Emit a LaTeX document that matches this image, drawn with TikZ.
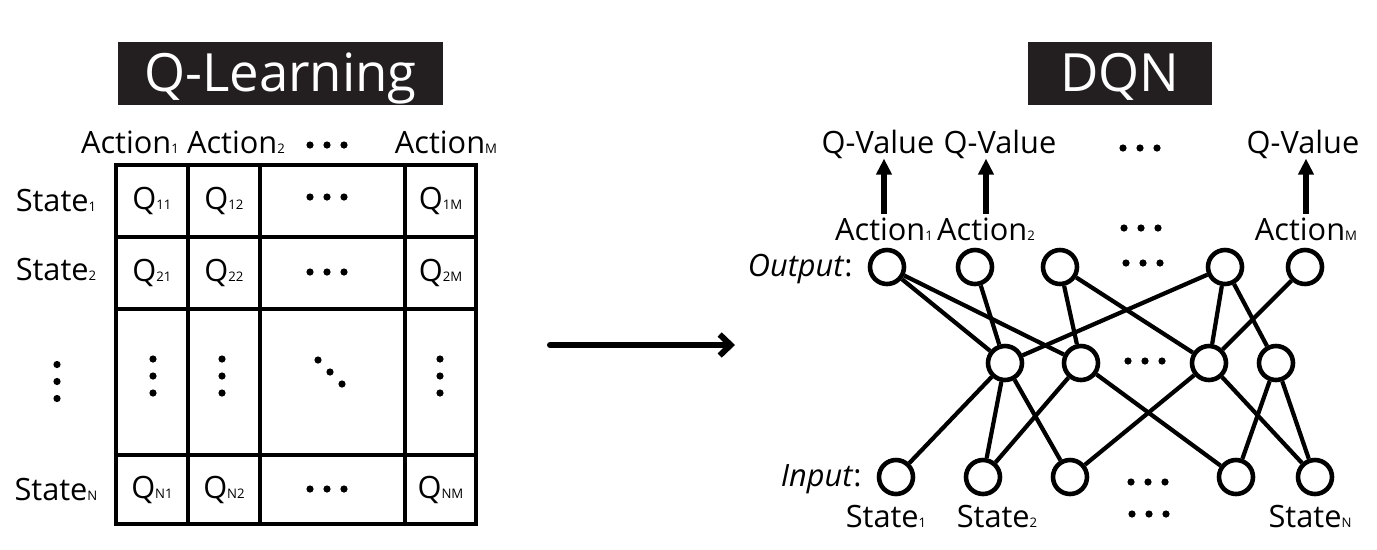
\documentclass[tikz,border=0pt]{standalone}
\usepackage{fontspec}
\setmainfont{Open Sans}
\usetikzlibrary{arrows.meta}
\definecolor{titlebg}{RGB}{35,31,32}
\newcommand{\idx}[1]{{\fontsize{7.5}{8}\selectfont #1}}

\begin{document}
\begin{tikzpicture}[x=0.02cm, y=-0.02cm,
    txt/.style={font=\fontsize{17.5}{20}\selectfont, inner sep=0pt, anchor=base},
    cell/.style={draw, line width=2.3pt, inner sep=0pt, font=\fontsize{17.5}{20}\selectfont},
    titlebox/.style={fill=titlebg, text=white, font=\fontsize{30}{36}\selectfont,
      minimum height=1.26cm, text height=0.7cm, text depth=0cm, inner sep=0pt},
    neuron/.style={circle, draw, line width=2.6pt, minimum size=0.68cm, inner sep=0pt},
    link/.style={line width=2.4pt},
    qarrow/.style={line width=3.1pt, -{Triangle[length=0.32cm,width=0.3cm]}},
    bigarrow/.style={line width=3.4pt, line cap=round, -{Straight Barb[length=0.22cm,width=0.42cm]}}]
  \useasboundingbox (0,0) rectangle (1377,549);

  % titles
  \node[titlebox, minimum width=6.5cm] (tql) at (280.5,73.5) {Q-Learning};
  \node[titlebox, minimum width=3.68cm] (tdqn) at (1120,73.5) {DQN};

  % q table header
  \node[txt] (ta1) at (130,153) {Action\idx{1}};
  \node[txt] (ta2) at (236,153) {Action\idx{2}};
  \node[txt] (tam) at (446,153) {Action\idx{M}};
  \node[txt] (ts1) at (56,211) {State\idx{1}};
  \node[txt] (ts2) at (56,280) {State\idx{2}};
  \node[txt] (tsn) at (56,500) {State\idx{N}};

  % q table cells
  \foreach \r/\y/\h in {1/201/1.44cm, 2/273/1.44cm, N/489.5/1.38cm}{
    \node[cell, minimum width=1.44cm, minimum height=\h] (q\r1) at (152,\y) {Q\idx{\r1}};
    \node[cell, minimum width=1.44cm, minimum height=\h] (q\r2) at (224,\y) {Q\idx{\r2}};
    \node[cell, minimum width=2.9cm, minimum height=\h] (q\r x) at (332.5,\y) {};
    \node[cell, minimum width=1.42cm, minimum height=\h] (q\r M) at (440.5,\y) {Q\idx{\r M}};
  }
  \node[cell, minimum width=1.44cm, minimum height=2.92cm] (qx1) at (152,382) {};
  \node[cell, minimum width=1.44cm, minimum height=2.92cm] (qx2) at (224,382) {};
  \node[cell, minimum width=2.9cm, minimum height=2.92cm] (qxx) at (332.5,382) {};
  \node[cell, minimum width=1.42cm, minimum height=2.92cm] (qxM) at (440.5,382) {};

  % dots
  \foreach \x/\y in {327/145, 327/197, 327/272, 327/489, 1140/148, 1141/228,
                     1143/263, 1145/361, 1148/482, 1149/514}
    \foreach \d in {-17,0,17}
      \fill (\x+\d,\y) circle (0.072cm);
  \foreach \x/\y in {57/381.5, 153/376, 222/376, 440/376}
    \foreach \d in {-17,0,17}
      \fill (\x,\y+\d) circle (0.072cm);
  \foreach \d in {-12,0,12}
    \fill (330+\d,372+\d) circle (0.072cm);

  % q-learning -> dqn
  \coordinate (arrS) at (550,345);
  \coordinate (arrE) at (735,345);
  \draw[bigarrow] (arrS) -- (arrE);

  % dqn outputs
  \node[txt] (qv1) at (878,153) {Q-Value};
  \node[txt] (qv2) at (1000,153) {Q-Value};
  \node[txt] (qvM) at (1303,153) {Q-Value};
  \node[txt] (a1) at (884,240) {Action\idx{1}};
  \node[txt] (a2) at (986,240) {Action\idx{2}};
  \node[txt] (aM) at (1306,240) {Action\idx{M}};
  \foreach \n in {1,2,M}
    \draw[qarrow, shorten <=0.06cm] (a\n.north) -- (a\n.north |- qv\n.south);

  % network
  \node[txt, anchor=base east] (outl) at (853,276) {\textit{Output}:};
  \node[txt, anchor=base east] (inl) at (862,486) {\textit{Input}:};
  \foreach \n/\x in {1/887, 2/975, 3/1060, 4/1225, 5/1305}
    \node[neuron] (o\n) at (\x,267) {};
  \foreach \n/\x in {1/1005, 2/1081, 3/1209, 4/1276}
    \node[neuron] (h\n) at (\x,363) {};
  \foreach \n/\x in {1/896, 2/983, 3/1070, 4/1236, 5/1315}
    \node[neuron] (i\n) at (\x,477) {};
  \foreach \a/\b in {o1/h1, o1/h2, o2/h1, o3/h2, o3/h3, o4/h1, o4/h3, o4/h4, o5/h3,
                     h1/i1, h1/i2, h1/i3, h2/i2, h2/i4, h3/i3, h3/i5, h4/i4, h4/i5}
    \draw[link] (\a) -- (\b);
  \node[txt] (st1) at (886,527) {State\idx{1}};
  \node[txt] (st2) at (997,527) {State\idx{2}};
  \node[txt] (stN) at (1310,527) {State\idx{N}};
\end{tikzpicture}
\end{document}
